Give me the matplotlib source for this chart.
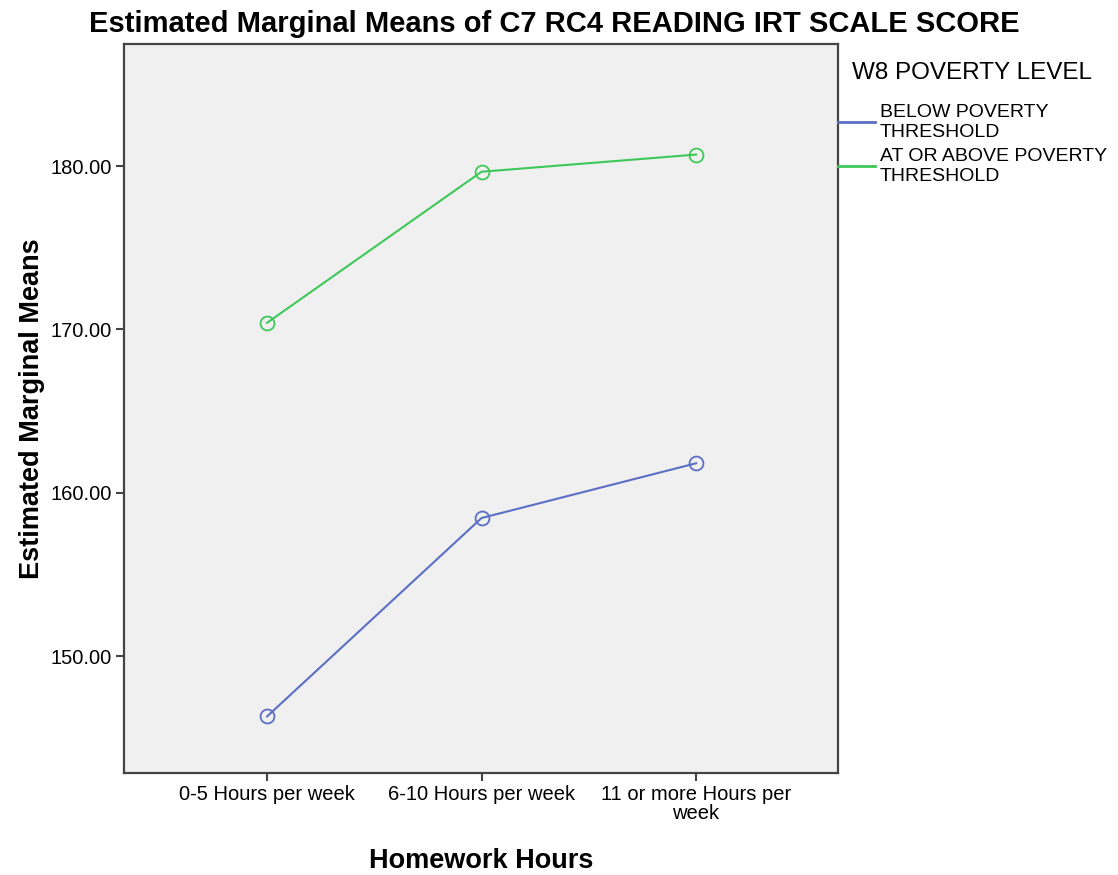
import matplotlib.pyplot as plt
import numpy as np

plt.rcParams['font.family'] = ['Liberation Sans', 'DejaVu Sans']

# data
categories = ["0-5 Hours per week", "6-10 Hours per week", "11 or more Hours per\nweek"]
below = [146.3, 158.45, 161.8]
above = [170.4, 179.65, 180.7]
series_names = ["BELOW POVERTY\nTHRESHOLD", "AT OR ABOVE POVERTY\nTHRESHOLD"]
yticks = [150, 160, 170, 180]

fig = plt.figure(figsize=(11.18, 8.75), dpi=100)
ax = fig.add_axes([0.1109, 0.1166, 0.6387, 0.8331])
ax.set_facecolor('#f0f0f0')

x = np.arange(len(categories))
ax.plot(x, below, color='#5b6fc4', lw=1.5, marker='o', ms=10, mfc='none', mew=1.3,
        label=series_names[0])
ax.plot(x, above, color='#3fc85a', lw=1.5, marker='o', ms=10, mfc='none', mew=1.3,
        label=series_names[1])

ax.set_xlim(-0.667, 2.662)
ax.set_ylim(142.84, 187.47)
ax.set_xticks(x)
ax.set_xticklabels(categories, fontsize=14.5, linespacing=1.0)
ax.set_yticks(yticks)
ax.set_yticklabels([f"{v:.2f}" for v in yticks], fontsize=14.5)
ax.tick_params(axis='both', length=6, width=1.5, color='#444444', pad=3)

for s in ax.spines.values():
    s.set_color('#444444')
    s.set_linewidth(1.6)

ax.set_xlabel("Homework Hours", fontsize=19.5, fontweight='bold', labelpad=18)
ax.set_ylabel("Estimated Marginal Means", fontsize=19.5, fontweight='bold', labelpad=4)
fig.text(0.4955, 0.973, "Estimated Marginal Means of C7 RC4 READING IRT SCALE SCORE",
         ha='center', va='center', fontsize=21, fontweight='bold')

# legend
fig.text(852 / 1118, 1 - 73 / 875, "W8 POVERTY LEVEL", ha='left', va='center', fontsize=17.5)
leg = ax.legend(loc='upper left', bbox_to_anchor=(838 / 1118, 1 - 104 / 875),
                bbox_transform=fig.transFigure, frameon=False, fontsize=14,
                handlelength=1.9, handletextpad=0.26, borderpad=0, borderaxespad=0,
                labelspacing=0.4)
for t in leg.get_texts():
    t.set_linespacing(1.2)
for line in leg.get_lines():
    line.set_marker('')
    line.set_linewidth(2)

fig.savefig('out.png', dpi=100)
